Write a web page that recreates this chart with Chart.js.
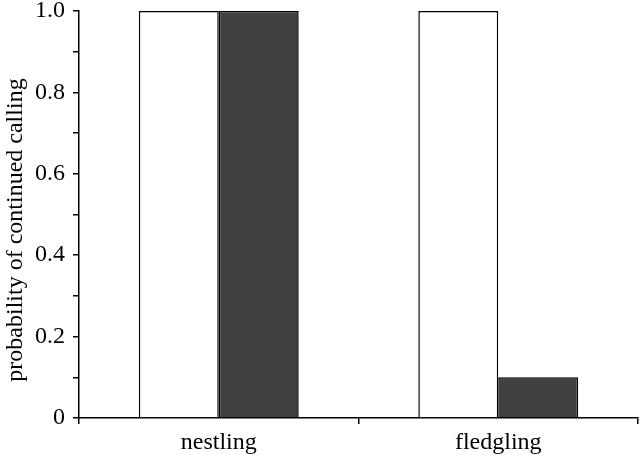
<!DOCTYPE html>
<html>
<head>
<meta charset="utf-8">
<script src="https://cdn.jsdelivr.net/npm/chart.js@4.4.0/dist/chart.umd.min.js"></script>
<style>
  html, body { margin: 0; padding: 0; background: #fff; }
  #wrap { width: 640px; height: 455px; }
</style>
</head>
<body>
<div id="wrap"><canvas id="chart" width="640" height="455"></canvas></div>
<script>
const categories = ['nestling', 'fledgling'];
const seriesA = [1.0, 1.0];   // white bars
const seriesB = [1.0, 0.1];   // dark bars
const yTicks = [0, 0.2, 0.4, 0.6, 0.8, 1.0];
const yTitle = 'probability of continued calling';

const serif = 'Liberation Serif';
Chart.defaults.font.family = serif;

// y title drawn by hand so it sits a bit below the axis centre, like the original
const yTitlePlugin = {
    id: 'yTitle',
    afterDraw(chart) {
        const ctx = chart.ctx;
        ctx.save();
        ctx.translate(16, 230);
        ctx.rotate(-Math.PI / 2);
        ctx.font = '24px "Liberation Serif"';
        ctx.fillStyle = '#000';
        ctx.textAlign = 'center';
        ctx.textBaseline = 'middle';
        ctx.fillText(yTitle, 0, 0);
        ctx.restore();
    }
};

new Chart(document.getElementById('chart').getContext('2d'), {
    type: 'bar',
    data: {
        labels: categories,
        datasets: [{
            data: seriesA,
            backgroundColor: '#ffffff',
            borderColor: '#000000',
            borderWidth: 1.5
        }, {
            data: seriesB,
            backgroundColor: '#404040',
            borderColor: '#000000',
            borderWidth: 1.5
        }]
    },
    plugins: [yTitlePlugin],
    options: {
        responsive: false,
        animation: false,
        categoryPercentage: 0.572,
        barPercentage: 1.0,
        layout: { padding: { top: 11, right: 2, left: 0, bottom: 0 } },
        plugins: { legend: { display: false }, tooltip: { enabled: false } },
        scales: {
            x: {
                grid: { drawOnChartArea: false, drawTicks: true, tickLength: 6, color: '#000', lineWidth: 1.5 },
                border: { color: '#000', width: 1.5 },
                ticks: { color: '#000', font: { family: serif, size: 24 }, padding: 4 },
                afterFit: (s) => { s.height = 37; s.paddingLeft = 0; s.paddingRight = 0; }
            },
            y: {
                min: 0,
                max: 1,
                grid: { drawOnChartArea: false, drawTicks: true, tickLength: 6, color: '#000', lineWidth: 1.5 },
                border: { color: '#000', width: 1.5 },
                ticks: {
                    stepSize: 0.1,
                    autoSkip: false,
                    color: '#000',
                    padding: 8,
                    font: { family: serif, size: 24 },
                    callback: (v) => {
                        const hit = yTicks.find(t => Math.abs(t - v) < 1e-6);
                        if (hit === undefined) return '';
                        return hit === 0 ? '0' : hit.toFixed(1);
                    }
                },
                afterFit: (s) => { s.width = 79; s.paddingTop = 0; s.paddingBottom = 0; }
            }
        }
    }
});
</script>
</body>
</html>
